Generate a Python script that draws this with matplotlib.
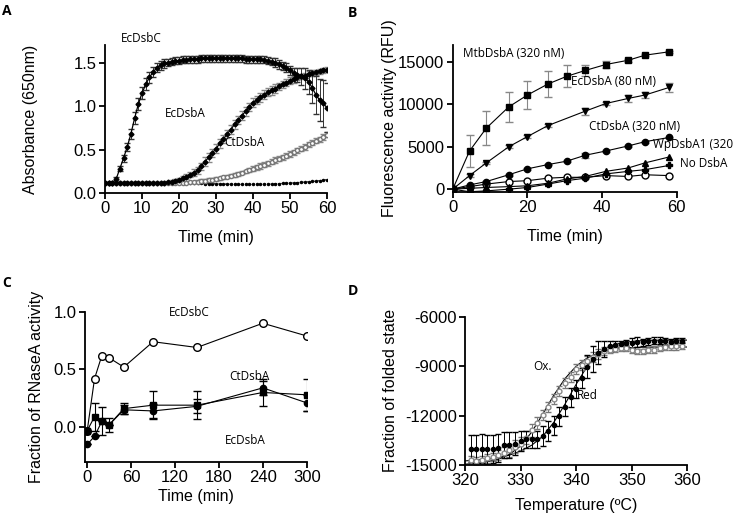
import numpy as np
import matplotlib
matplotlib.use('Agg')
import matplotlib.pyplot as plt

plt.rcParams['font.family'] = ['Liberation Sans', 'DejaVu Sans']
plt.rcParams['axes.unicode_minus'] = False

# ---------------- panel A data (absorbance, every minute) ----------------
time_a = np.arange(0, 61)
a_ecdsbc = [0.12, 0.12, 0.12, 0.16, 0.28, 0.40, 0.53, 0.68, 0.86, 1.02,
            1.15, 1.25, 1.33, 1.39, 1.44, 1.47, 1.49, 1.50, 1.51, 1.52,
            1.52, 1.53, 1.53, 1.54, 1.54, 1.54, 1.55, 1.55, 1.55, 1.55,
            1.55, 1.55, 1.55, 1.55, 1.55, 1.55, 1.55, 1.55, 1.54, 1.54,
            1.54, 1.54, 1.54, 1.53, 1.52, 1.51, 1.50, 1.48, 1.46, 1.44,
            1.41, 1.38, 1.36, 1.34, 1.32, 1.28, 1.21, 1.13, 1.07, 1.03, 0.98]
a_ecdsbc_err = [0.01, 0.01, 0.01, 0.02, 0.03, 0.04, 0.05, 0.06, 0.07, 0.07,
                0.07, 0.07, 0.06, 0.06, 0.05, 0.05, 0.05, 0.04, 0.04, 0.04,
                0.04, 0.04, 0.04, 0.04, 0.04, 0.04, 0.04, 0.04, 0.04, 0.04,
                0.04, 0.04, 0.04, 0.04, 0.04, 0.04, 0.04, 0.04, 0.04, 0.04,
                0.04, 0.04, 0.04, 0.04, 0.04, 0.04, 0.05, 0.05, 0.05, 0.05,
                0.05, 0.06, 0.08, 0.10, 0.12, 0.14, 0.18, 0.22, 0.24, 0.27, 0.28]
a_ecdsba = [0.12, 0.12, 0.12, 0.12, 0.12, 0.12, 0.12, 0.12, 0.12, 0.12,
            0.12, 0.12, 0.12, 0.12, 0.12, 0.12, 0.12, 0.125, 0.13, 0.14,
            0.15, 0.17, 0.19, 0.21, 0.235, 0.26, 0.31, 0.36, 0.41, 0.46,
            0.51, 0.57, 0.62, 0.68, 0.73, 0.79, 0.84, 0.89, 0.94, 0.99,
            1.04, 1.07, 1.10, 1.13, 1.16, 1.18, 1.20, 1.23, 1.25, 1.27,
            1.29, 1.31, 1.33, 1.34, 1.35, 1.37, 1.38, 1.39, 1.40, 1.41, 1.42]
a_ecdsba_err = [0.01, 0.01, 0.01, 0.01, 0.01, 0.01, 0.01, 0.01, 0.01, 0.01,
                0.01, 0.01, 0.01, 0.01, 0.01, 0.01, 0.01, 0.01, 0.02, 0.02,
                0.02, 0.03, 0.03, 0.03, 0.04, 0.04, 0.04, 0.05, 0.05, 0.05,
                0.05, 0.05, 0.05, 0.05, 0.05, 0.05, 0.05, 0.05, 0.05, 0.05,
                0.05, 0.05, 0.05, 0.05, 0.05, 0.05, 0.05, 0.04, 0.04, 0.04,
                0.04, 0.04, 0.03, 0.03, 0.03, 0.03, 0.03, 0.03, 0.03, 0.03, 0.03]
a_ctdsba = [0.12, 0.12, 0.12, 0.12, 0.12, 0.12, 0.12, 0.12, 0.12, 0.12,
            0.12, 0.12, 0.12, 0.12, 0.12, 0.12, 0.12, 0.12, 0.12, 0.12,
            0.12, 0.12, 0.12, 0.125, 0.13, 0.13, 0.14, 0.14, 0.15, 0.155,
            0.16, 0.17, 0.18, 0.19, 0.20, 0.21, 0.22, 0.235, 0.25, 0.265,
            0.28, 0.295, 0.31, 0.325, 0.34, 0.36, 0.38, 0.395, 0.41, 0.43,
            0.45, 0.47, 0.49, 0.51, 0.53, 0.56, 0.58, 0.60, 0.62, 0.645, 0.67]
a_ctdsba_err = [0.01] * 25 + [0.02] * 15 + [0.03] * 21
a_none = [0.115, 0.115, 0.115, 0.115, 0.115, 0.115, 0.115, 0.115, 0.115, 0.115,
          0.115, 0.115, 0.115, 0.115, 0.115, 0.115, 0.115, 0.115, 0.115, 0.115,
          0.115, 0.114, 0.113, 0.112, 0.111, 0.11, 0.11, 0.109, 0.108, 0.107,
          0.106, 0.105, 0.104, 0.103, 0.102, 0.101, 0.10, 0.10, 0.10, 0.10,
          0.10, 0.10, 0.101, 0.102, 0.103, 0.105, 0.107, 0.109, 0.111, 0.113,
          0.115, 0.118, 0.121, 0.124, 0.127, 0.13, 0.134, 0.138, 0.143, 0.149, 0.155]

# ---------------- panel B data (fluorescence) ----------------
time_b = [0, 4.5, 9, 15, 20, 25.5, 30.5, 35.5, 41, 47, 51.5, 58]
b_mtb = [0, 4500, 7200, 9700, 11100, 12400, 13300, 14000, 14700, 15200, 15800, 16200]
b_mtb_err = [0, 1900, 2000, 1800, 1600, 1500, 1300, 700, 400, 200, 150, 150]
time_b_ec = [0, 4.5, 9, 15, 20, 25.5, 35.5, 41, 47, 51.5, 58]
b_ec = [0, 1600, 3100, 5000, 6200, 7500, 9200, 10100, 10700, 11100, 12000]
b_ec_err = [0, 150, 150, 150, 150, 150, 400, 150, 400, 400, 500]
b_ct = [0, 500, 900, 1700, 2400, 2900, 3300, 4000, 4500, 5100, 5600, 6100]
b_ct_err = [0, 100, 100, 100, 100, 100, 100, 300, 100, 100, 100, 100]
b_open = [0, 300, 600, 900, 1000, 1300, 1400, 1400, 1600, 1500, 1700, 1600]
b_wp = [0, 100, 200, 300, 400, 700, 1200, 1500, 2100, 2500, 3100, 3800]
b_none = [0, -300, -200, 0, 200, 600, 1000, 1300, 1800, 2100, 2300, 2800]

# ---------------- panel C data (RNaseA activity) ----------------
time_c = [0, 10, 20, 30, 50, 90, 150, 240, 300]
c_ecdsbc = [-0.03, 0.42, 0.62, 0.60, 0.52, 0.74, 0.69, 0.90, 0.79]
c_ctdsba = [-0.03, 0.09, 0.05, 0.02, 0.16, 0.19, 0.19, 0.30, 0.28]
c_ctdsba_err = [0.0, 0.12, 0.12, 0.06, 0.05, 0.12, 0.12, 0.12, 0.14]
c_ecdsba = [-0.15, -0.08, 0.05, 0.02, 0.15, 0.14, 0.18, 0.34, 0.21]
c_ecdsba_err = [0.0, 0.0, 0.0, 0.0, 0.04, 0.06, 0.06, 0.06, 0.07]

# ---------------- panel D data (thermal unfolding) ----------------
temp_d = np.arange(321, 360)
d_red = [-14000, -14000, -14000, -14050, -14050, -13950, -13800, -13800, -13700, -13550,
         -13450, -13450, -13450, -13250, -12950, -12600, -12050, -11450, -10900, -10400,
         -9700, -9050, -8550, -8200, -7950, -7800, -7700, -7650, -7600, -7600,
         -7550, -7550, -7500, -7450, -7450, -7500, -7550, -7500, -7450]
d_red_err = [800, 850, 900, 900, 850, 850, 800, 800, 700, 600,
             500, 500, 500, 600, 600, 600, 600, 600, 600, 550,
             600, 700, 800, 700, 500, 300, 200, 200, 200, 300,
             300, 200, 200, 200, 200, 200, 200, 200, 150]
d_ox = [-14700, -14750, -14700, -14600, -14500, -14400, -14250, -14100, -13900, -13700,
        -13350, -12900, -12450, -11950, -11500, -11000, -10500, -10050, -9650, -9200,
        -8950, -8700, -8450, -8250, -8100, -8000, -7950, -7900, -7900, -8050,
        -8100, -8100, -8050, -8000, -7900, -7850, -7800, -7800, -7750]
d_ox_err = [250, 250, 250, 250, 250, 300, 350, 400, 400, 400,
            400, 400, 350, 300, 300, 300, 300, 300, 300, 300,
            300, 300, 300, 300, 250, 200, 200, 200, 200, 150,
            150, 150, 150, 200, 200, 200, 200, 200, 200]
temp_fit = [320, 322, 324, 326, 328, 330, 332, 334, 336, 338, 340,
            342, 344, 346, 348, 350, 352, 354, 356, 358, 360]
d_ox_fit = [-14950, -14900, -14800, -14650, -14350, -13850, -13000, -11900, -10750, -9750, -9000,
            -8500, -8200, -8000, -7900, -7870, -7850, -7850, -7840, -7840, -7840]
d_red_fit = [-14750, -14700, -14650, -14550, -14400, -14150, -13800, -13250, -12400, -11300, -10100,
             -9000, -8200, -7800, -7600, -7500, -7450, -7430, -7420, -7420, -7420]

TICK_FS = 12
LABEL_FS = 11.5
NOTE_FONT = ['Open Sans', 'DejaVu Sans']
NOTE_FS = 8.5


def style_axes(ax):
    for side in ['top', 'right']:
        ax.spines[side].set_visible(False)
    for side in ['left', 'bottom']:
        ax.spines[side].set_linewidth(1.3)
    ax.tick_params(direction='out', length=4, width=1.3, labelsize=TICK_FS, pad=2)


fig = plt.figure(figsize=(7.4, 5.19), dpi=100)

# ---- A ----
ax = fig.add_axes([0.1419, 0.628, 0.300, 0.285])
ax.errorbar(time_a, a_none, fmt='o', ms=1.5, color='black', ls=(0, (1, 1)), lw=0.8)
ax.errorbar(time_a, a_ctdsba, yerr=a_ctdsba_err, fmt='o', ms=3, mfc='white', mec='#777777',
            color='black', lw=0.8, ecolor='#888888', elinewidth=0.6, capsize=2, ls='-')
ax.errorbar(time_a, a_ecdsba, yerr=a_ecdsba_err, fmt='D', ms=2.5, color='black', lw=0.9,
            ecolor='#888888', elinewidth=0.6, capsize=2, ls='-')
ax.errorbar(time_a, a_ecdsbc, yerr=a_ecdsbc_err, fmt='D', ms=2.5, color='black', lw=0.9,
            ecolor='#333333', elinewidth=0.7, capsize=2, ls='-')
ax.set_xlim(0, 60)
ax.set_ylim(0, 1.7)
ax.set_xticks([0, 10, 20, 30, 40, 50, 60])
ax.set_yticks([0.0, 0.5, 1.0, 1.5])
ax.set_yticklabels(['0.0', '0.5', '1.0', '1.5'])
ax.set_xlabel('Time (min)', fontsize=LABEL_FS, labelpad=10)
ax.set_ylabel('Absorbance (650nm)', fontsize=LABEL_FS, labelpad=26)
style_axes(ax)
ax.text(9.7, 1.775, 'EcDsbC', family=NOTE_FONT, fontsize=NOTE_FS, ha='center', va='center', clip_on=False)
ax.text(21.6, 0.92, 'EcDsbA', family=NOTE_FONT, fontsize=NOTE_FS, ha='center', va='center')
ax.text(37.8, 0.58, 'CtDsbA', family=NOTE_FONT, fontsize=NOTE_FS, ha='center', va='center')

# ---- B ----
ax = fig.add_axes([0.6118, 0.6306, 0.3027, 0.2827])
ax.errorbar(time_b, b_open, fmt='o', ms=5, mfc='white', mec='black', color='black', lw=0.8, ls='-')
ax.errorbar(time_b, b_none, fmt='P', ms=4, color='black', lw=0.8, ls='-')
ax.errorbar(time_b, b_wp, fmt='^', ms=4.5, color='black', lw=0.8, ls='-')
ax.errorbar(time_b, b_ct, yerr=b_ct_err, fmt='o', ms=4.5, color='black', lw=0.8,
            ecolor='#888888', elinewidth=0.8, capsize=3, ls='-')
ax.errorbar(time_b_ec, b_ec, yerr=b_ec_err, fmt='v', ms=4.5, color='black', lw=0.8,
            ecolor='#888888', elinewidth=0.8, capsize=3, ls='-')
ax.errorbar(time_b, b_mtb, yerr=b_mtb_err, fmt='s', ms=5, color='black', lw=0.8,
            ecolor='#888888', elinewidth=0.8, capsize=3, ls='-')
ax.set_xlim(0, 60)
ax.set_ylim(-300, 17000)
ax.set_xticks([0, 20, 40, 60])
ax.set_yticks([0, 5000, 10000, 15000])
ax.set_xlabel('Time (min)', fontsize=LABEL_FS, labelpad=10)
ax.set_ylabel('Fluorescence activity (RFU)', fontsize=LABEL_FS, labelpad=1)
style_axes(ax)
ax.text(2.8, 16030, 'MtbDsbA (320 nM)', family=NOTE_FONT, fontsize=NOTE_FS, ha='left', va='center')
ax.text(31.8, 12660, 'EcDsbA (80 nM)', family=NOTE_FONT, fontsize=NOTE_FS, ha='left', va='center')
ax.text(36.5, 7440, 'CtDsbA (320 nM)', family=NOTE_FONT, fontsize=NOTE_FS, ha='left', va='center')
ax.text(53.7, 5210, 'WpDsbA1 (320', family=NOTE_FONT, fontsize=NOTE_FS, ha='left', va='center', clip_on=False)
ax.text(60.9, 2980, 'No DsbA', family=NOTE_FONT, fontsize=NOTE_FS, ha='left', va='center', clip_on=False)

# ---- C ----
ax = fig.add_axes([0.1149, 0.1104, 0.2996, 0.289])
ax.errorbar(time_c, c_ecdsbc, fmt='o', ms=5.5, mfc='white', mec='black', mew=1.0,
            color='black', lw=0.8, ls='-')
ax.errorbar(time_c, c_ecdsba, yerr=c_ecdsba_err, fmt='o', ms=4.5, color='black', lw=0.8,
            ecolor='black', elinewidth=0.8, capsize=3, ls='-')
ax.errorbar(time_c, c_ctdsba, yerr=c_ctdsba_err, fmt='s', ms=5, color='black', lw=0.8,
            ecolor='black', elinewidth=0.8, capsize=3, ls='-')
ax.set_xlim(-3, 300)
ax.set_ylim(-0.3, 1.0)
ax.set_xticks([0, 60, 120, 180, 240, 300])
ax.set_yticks([0.0, 0.5, 1.0])
ax.set_yticklabels(['0.0', '0.5', '1.0'])
ax.set_xlabel('Time (min)', fontsize=LABEL_FS, labelpad=3)
ax.set_ylabel('Fraction of RNaseA activity', fontsize=LABEL_FS, labelpad=7)
style_axes(ax)
ax.text(139, 0.995, 'EcDsbC', family=NOTE_FONT, fontsize=NOTE_FS, ha='center', va='center')
ax.text(222, 0.44, 'CtDsbA', family=NOTE_FONT, fontsize=NOTE_FS, ha='center', va='center')
ax.text(216, -0.117, 'EcDsbA', family=NOTE_FONT, fontsize=NOTE_FS, ha='center', va='center')

# ---- D ----
ax = fig.add_axes([0.6284, 0.104, 0.3004, 0.2858])
ax.plot(temp_fit, d_ox_fit, color='black', lw=0.8)
ax.plot(temp_fit, d_red_fit, color='black', lw=0.8)
ax.errorbar(temp_d, d_ox, yerr=d_ox_err, fmt='o', ms=3.5, mfc='white', mec='#888888',
            ecolor='#777777', elinewidth=0.7, capsize=2, ls='none')
ax.errorbar(temp_d, d_red, yerr=d_red_err, fmt='o', ms=3, color='black',
            ecolor='black', elinewidth=0.7, capsize=2, ls='none')
ax.set_xlim(320, 360)
ax.set_ylim(-15000, -6000)
ax.set_xticks([320, 330, 340, 350, 360])
ax.set_yticks([-15000, -12000, -9000, -6000])
ax.set_xlabel('Temperature (ºC)', fontsize=LABEL_FS, labelpad=7)
ax.set_ylabel('Fraction of folded state', fontsize=LABEL_FS, labelpad=5)
style_axes(ax)
ax.text(332.2, -9030, 'Ox.', family=NOTE_FONT, fontsize=NOTE_FS, ha='left', va='center')
ax.text(340.1, -10810, 'Red', family=NOTE_FONT, fontsize=NOTE_FS, ha='left', va='center')

# panel letters
for lbl, x, y in [('A', 2, 4), ('B', 348, 6), ('C', 2, 276), ('D', 348, 284)]:
    fig.text(x / 740, 1 - y / 519, lbl, fontsize=10, fontweight='bold', ha='left', va='top',
             family=['Open Sans', 'DejaVu Sans'])

fig.savefig('out.png', dpi=100)
